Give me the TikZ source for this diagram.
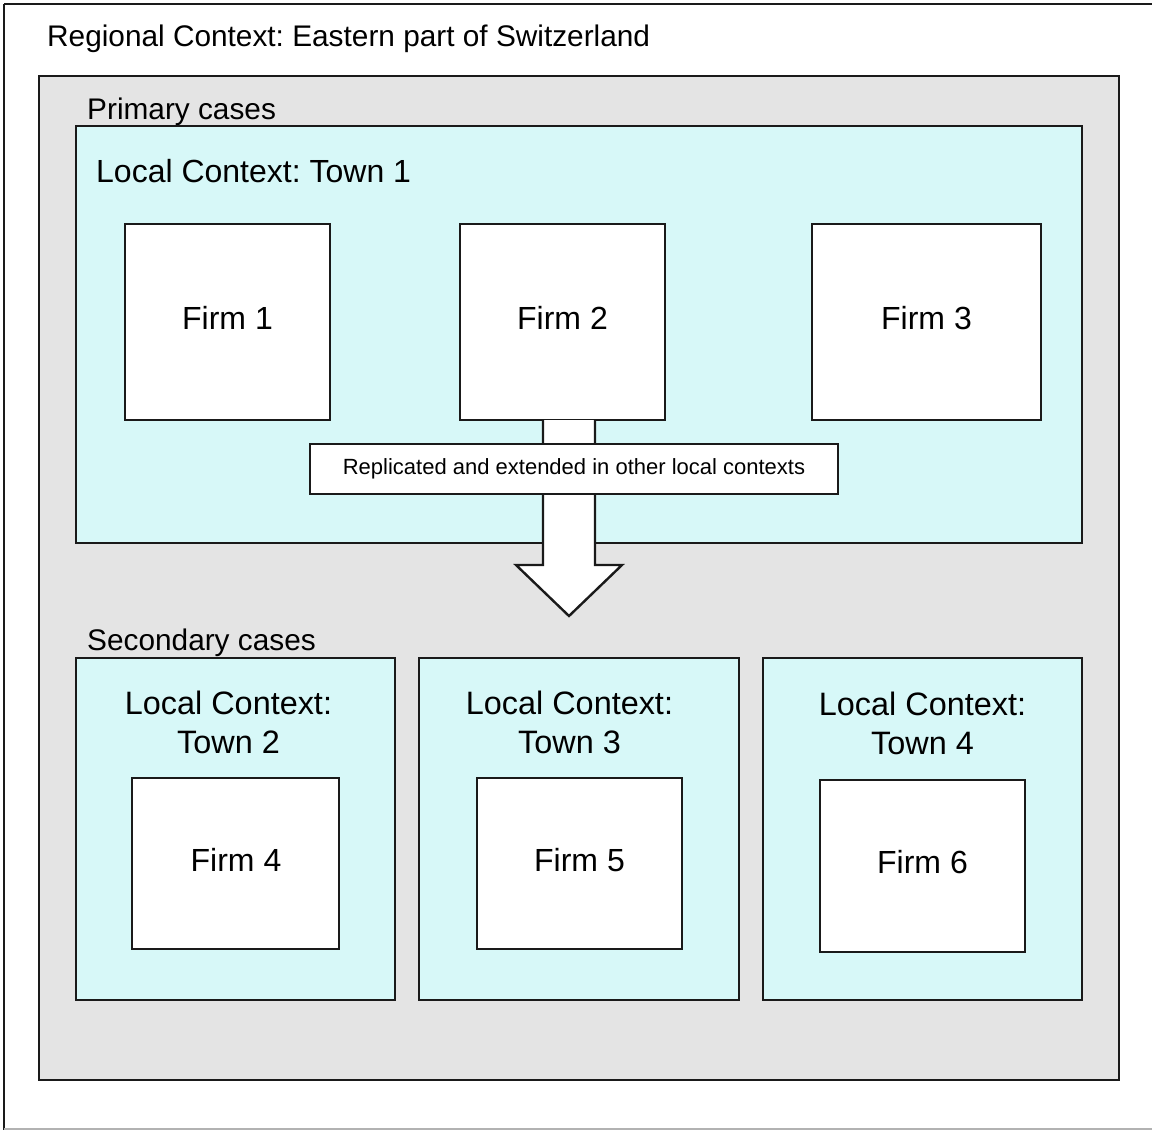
\documentclass[tikz,border=0pt]{standalone}
\usepackage{fontspec}
\setmainfont{Liberation Sans}
\frenchspacing
\definecolor{graybg}{HTML}{E4E4E4}
\definecolor{cyanbg}{HTML}{D7F8F8}
\definecolor{edge}{HTML}{1A1A1A}
\begin{document}
\begin{tikzpicture}[x=1pt,y=-1pt,
  box/.style={draw=edge,line width=2.4pt},
  firm/.style={box,fill=white},
  ctx/.style={box,fill=cyanbg},
  lbl/.style={inner sep=0pt,font=\fontsize{29.8}{34}\selectfont},
  big/.style={inner sep=0pt,font=\fontsize{32}{39}\selectfont,align=center},
  sec/.style={inner sep=0pt,font=\fontsize{32.4}{39}\selectfont,align=center}]
\useasboundingbox (0,0) rectangle (1152,1130);
\begin{scope}
\clip (0,0) rectangle (1152,1130);
\draw[line width=2.4pt,draw=edge] (4,4) -- (1160,4);
\draw[line width=2.4pt,draw=edge] (4,4) -- (4,1130);
\draw[line width=2pt,draw=black!30] (4,1129) -- (1160,1129);
\end{scope}
\node[lbl,anchor=west] (regional) at (47,39) {Regional Context: Eastern part of Switzerland};
% gray region
\draw[box,fill=graybg] (39,76) rectangle (1119,1080);
% primary
\node[lbl,anchor=west] (primary) at (87,112) {Primary cases};
\draw[ctx] (76,126) rectangle (1082,543);
\node[big,anchor=west] (town1) at (96,171) {Local Context: Town 1};
\node[firm,minimum width=205pt,minimum height=196pt] (firm1) at (227.5,322) {};
\node[firm,minimum width=205pt,minimum height=196pt] (firm2) at (562.5,322) {};
\node[firm,minimum width=229pt,minimum height=196pt] (firm3) at (926.5,322) {};
\node[big] at (227.5,318) {Firm 1};
\node[big] at (562.5,318) {Firm 2};
\node[big] at (926.5,318) {Firm 3};
% arrow
\coordinate (arrtop) at (569,420);
\coordinate (arrtip) at (569,616);
\draw[box,fill=white,line join=miter]
  ([xshift=-26pt]arrtop) -- ([xshift=-26pt]arrtop |- 0,565) -- ([xshift=-53pt]arrtip |- 0,565)
  -- (arrtip) -- ([xshift=53pt]arrtip |- 0,565) -- ([xshift=26pt]arrtop |- 0,565) -- ([xshift=26pt]arrtop);
\node[firm,minimum width=528pt,minimum height=50pt,font=\fontsize{22}{26}\selectfont,inner sep=0pt] (repl) at (574,469) {Replicated and extended in other local contexts};
% secondary
\node[lbl,anchor=west] (secondary) at (87,643) {Secondary cases};
\draw[ctx] (76,658) rectangle (395,1000);
\draw[ctx] (419,658) rectangle (739,1000);
\draw[ctx] (763,658) rectangle (1082,1000);
\node[sec] (town2) at (228.5,722) {Local Context:\\Town 2};
\node[sec] (town3) at (569.5,722) {Local Context:\\Town 3};
\node[sec] (town4) at (922.5,723) {Local Context:\\Town 4};
\node[firm,minimum width=207pt,minimum height=171pt] (firm4) at (235.5,863.5) {};
\node[firm,minimum width=205pt,minimum height=171pt] (firm5) at (579.5,863.5) {};
\node[firm,minimum width=205pt,minimum height=172pt] (firm6) at (922.5,866) {};
\node[big] at (236,860) {Firm 4};
\node[big] at (579.5,860) {Firm 5};
\node[big] at (922.5,862) {Firm 6};
\end{tikzpicture}
\end{document}
